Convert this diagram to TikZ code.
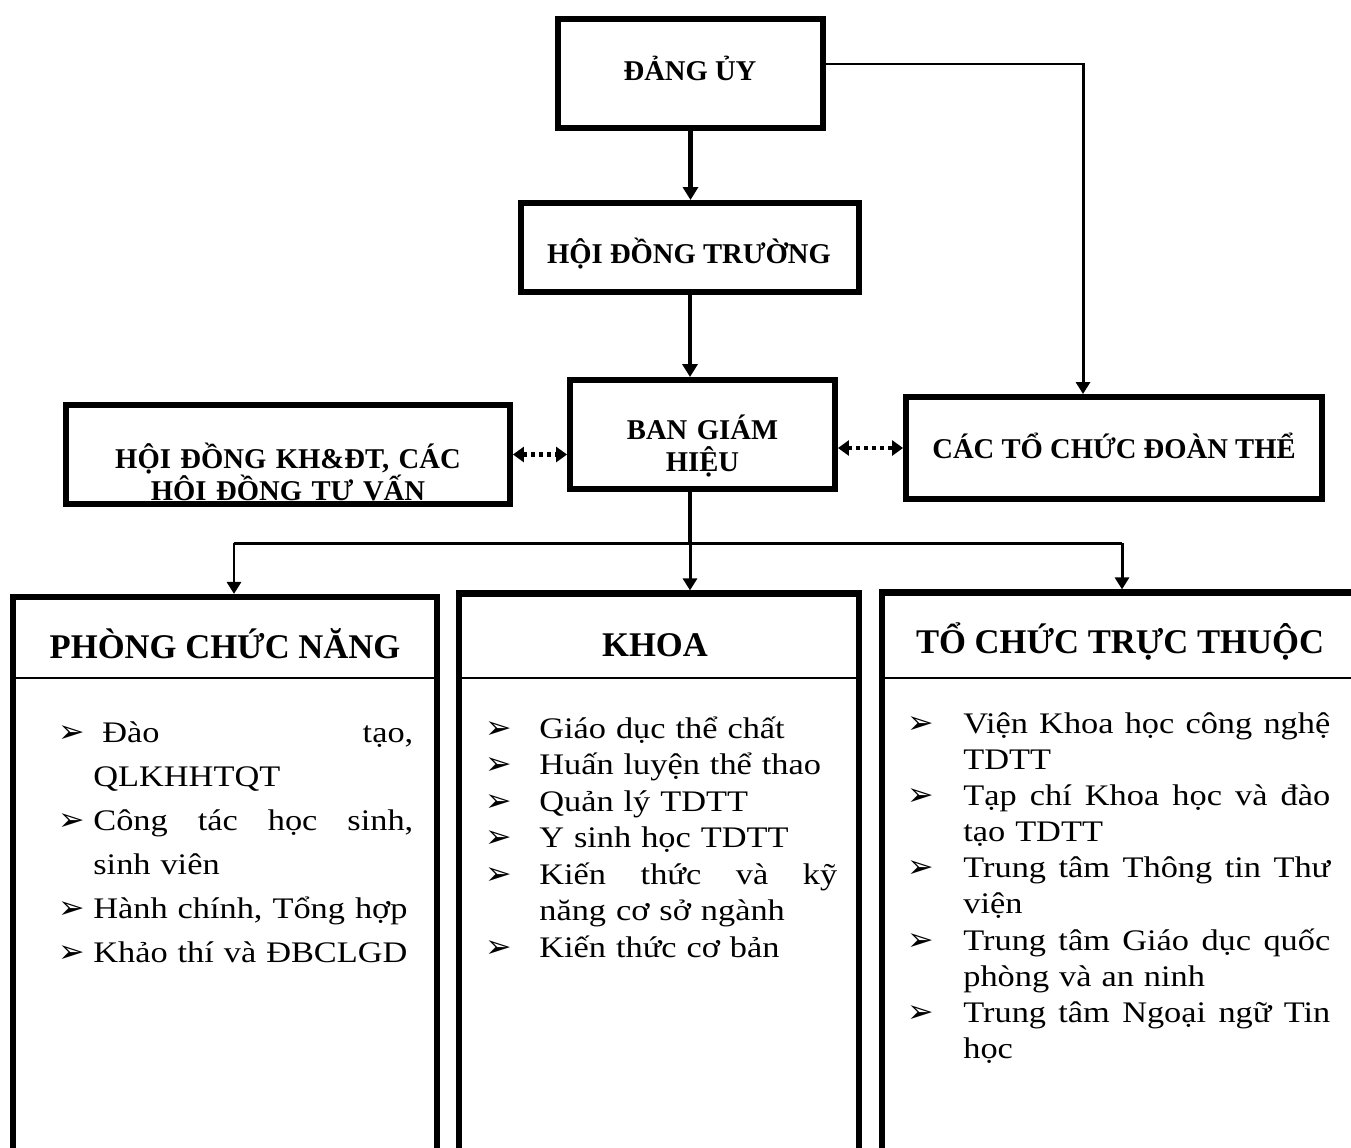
\documentclass[tikz,border=0pt]{standalone}
\usepackage{fontspec}
\setmainfont{Liberation Serif}
\newfontfamily\listfont{Liberation Serif}[FakeStretch=1.15]
\newfontfamily\dingfont{DejaVu Sans}
\usetikzlibrary{arrows.meta}

\newcommand{\bul}[1][0.7cm]{\makebox[#1][l]{\dingfont\bfseries\fontsize{18}{18}\selectfont ➢}}

\tikzset{
  orgbox/.style={draw, line width=3.4pt, inner sep=0pt, outer sep=1.7pt},
  colbox/.style={draw, line width=3.6pt, inner sep=0pt, outer sep=1.8pt},
  boxtext/.style={anchor=base, inner sep=0pt, align=center,
    font=\fontsize{16.3}{18.7}\selectfont\bfseries},
  header/.style={anchor=base, inner sep=0pt,
    font=\fontsize{19.7}{22}\selectfont\bfseries},
  itemlist/.style={anchor=base west, inner sep=0pt, align=left,
    font=\listfont\fontsize{17}{#1}\selectfont},
  sepline/.style={line width=1.1pt},
  link/.style={line width=2.3pt, -{Triangle[length=0.26cm,width=0.3cm]}},
  thinlink/.style={line width=1.7pt, -{Triangle[length=0.24cm,width=0.28cm]}},
  dotlink/.style={line width=2.4pt, dash pattern=on 0.08cm off 0.08cm,
    {Triangle[length=0.22cm,width=0.3cm]}-{Triangle[length=0.22cm,width=0.3cm]}}
}

\begin{document}
\begin{tikzpicture}[x=0.02cm, y=-0.02cm]
  \useasboundingbox (0,0) rectangle (1351,1147);
  \clip (0,0) rectangle (1351,1147);

  % upper chain
  \node[orgbox, minimum width=5.3cm, minimum height=2.18cm] (dangUy) at (690.5,73.5) {};
  \node[boxtext] (dangUyText) at (690,80) {ĐẢNG ỦY};
  \node[orgbox, minimum width=6.76cm, minimum height=1.78cm] (hoiDong) at (690,247.5) {};
  \node[boxtext] (hoiDongText) at (689,263) {HỘI ĐỒNG TRƯỜNG};
  \node[orgbox, minimum width=5.3cm, minimum height=2.18cm] (banGH) at (702.5,434.5) {};
  \node[boxtext, text width=5cm] (banGHText) at (702.5,439) {BAN GIÁM\\HIỆU};

  % side boxes
  \node[orgbox, minimum width=8.88cm, minimum height=1.98cm] (hdKhdt) at (288,454.5) {};
  \begin{scope}
    \clip (hdKhdt.north west) rectangle ([yshift=0.12cm]hdKhdt.south east);
    \node[boxtext, text width=8.5cm] (hdKhdtText) at (288,468) {HỘI ĐỒNG KH\&ĐT, CÁC\\HỘI ĐỒNG TƯ VẤN};
  \end{scope}
  \node[orgbox, minimum width=8.32cm, minimum height=2.04cm] (toChucDT) at (1114,448) {};
  \node[boxtext] (toChucDTText) at (1114,458) {CÁC TỔ CHỨC ĐOÀN THỂ};

  % lower columns
  \node[colbox, minimum width=8.48cm, minimum height=12.06cm] (phong) at (225,898.5) {};
  \node[colbox, minimum width=8cm, minimum height=12.13cm] (khoa) at (659,896.75) {};
  \node[colbox, minimum width=9.52cm, minimum height=12.15cm] (toChucTT) at (1120,896.25) {};
  \coordinate (sepY) at (0,678);
  \foreach \b in {phong,khoa,toChucTT}
    \draw[sepline] (\b.west |- sepY) -- (\b.east |- sepY);

  \node[header] (phongHead) at (225,658) {PHÒNG CHỨC NĂNG};
  \node[header] (khoaHead) at (655,656) {KHOA};
  \node[header] (toChucTTHead) at (1120,653) {TỔ CHỨC TRỰC THUỘC};

  \node[itemlist=25.1pt, text width=8cm] (phongList) at (58,742) {%
    \bul\makebox[6.4cm][s]{\hspace{0.18cm}Đào\hfill tạo,}\\
    \hspace*{0.7cm}QLKHHTQT\\
    \bul\makebox[6.4cm][s]{Công\hfill tác\hfill học\hfill sinh,}\\
    \hspace*{0.7cm}sinh viên\\
    \bul Hành chính, Tổng hợp\\
    \bul Khảo thí và ĐBCLGD};
  \node[itemlist=20.8pt, text width=8cm] (khoaList) at (485,738) {%
    \bul[1.08cm]Giáo dục thể chất\\
    \bul[1.08cm]Huấn luyện thể thao\\
    \bul[1.08cm]Quản lý TDTT\\
    \bul[1.08cm]Y sinh học TDTT\\
    \bul[1.08cm]\makebox[5.96cm][s]{Kiến\hfill thức\hfill và\hfill kỹ}\\
    \hspace*{1.08cm}năng cơ sở ngành\\
    \bul[1.08cm]Kiến thức cơ bản};
  \node[itemlist=20.6pt, text width=8.6cm] (toChucTTList) at (907,733) {%
    \bul[1.12cm]\makebox[7.34cm][s]{Viện\hfill Khoa\hfill học\hfill công\hfill nghệ}\\
    \hspace*{1.12cm}TDTT\\
    \bul[1.12cm]\makebox[7.34cm][s]{Tạp\hfill chí\hfill Khoa\hfill học\hfill và\hfill đào}\\
    \hspace*{1.12cm}tạo TDTT\\
    \bul[1.12cm]\makebox[7.34cm][s]{Trung\hfill tâm\hfill Thông\hfill tin\hfill Thư}\\
    \hspace*{1.12cm}viện\\
    \bul[1.12cm]\makebox[7.34cm][s]{Trung\hfill tâm\hfill Giáo\hfill dục\hfill quốc}\\
    \hspace*{1.12cm}phòng và an ninh\\
    \bul[1.12cm]\makebox[7.34cm][s]{Trung\hfill tâm\hfill Ngoại\hfill ngữ\hfill Tin}\\
    \hspace*{1.12cm}học};

  % connectors
  \draw[link] (dangUy.south) -- (dangUy.south |- hoiDong.north);
  \draw[link] (hoiDong.south) -- (hoiDong.south |- banGH.north);
  \coordinate (corner) at (1083,64);
  \draw[thinlink] (corner -| dangUy.east) -- (corner) -- (corner |- toChucDT.north);
  \draw[dotlink] (hdKhdt.east) -- (hdKhdt.east -| banGH.west);
  \draw[dotlink] (toChucDT.west -| banGH.east) -- (toChucDT.west);

  \coordinate (busL) at (234,543);
  \coordinate (busM) at (690,543);
  \coordinate (busR) at (1122,543);
  \draw[line width=2.3pt] (banGH.south -| busM) -- (busM);
  \draw[line width=1.7pt] (busL) -- (busR);
  \foreach \c/\b in {busL/phong, busM/khoa, busR/toChucTT}
    \draw[thinlink] (\c) -- (\c |- \b.north);
\end{tikzpicture}
\end{document}
